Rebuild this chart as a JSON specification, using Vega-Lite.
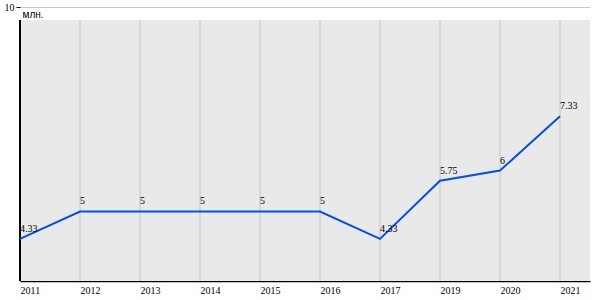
{
  "$schema": "https://vega.github.io/schema/vega-lite/v6.json",
  "autosize": "none",
  "width": 570,
  "height": 274,
  "padding": {"left": 20, "top": 7, "right": 10, "bottom": 19},
  "background": "white",
  "config": {
    "view": {"stroke": null},
    "font": "Liberation Sans Narrow",
    "axis": {"labelFont": "Liberation Sans Narrow", "titleFont": "Liberation Sans", "labelColor": "#000", "titleColor": "#000"}
  },
  "data": {"values": [
    {"i": 0, "year": "2011", "v": 4.33},
    {"i": 1, "year": "2012", "v": 5},
    {"i": 2, "year": "2013", "v": 5},
    {"i": 3, "year": "2014", "v": 5},
    {"i": 4, "year": "2015", "v": 5},
    {"i": 5, "year": "2016", "v": 5},
    {"i": 6, "year": "2017", "v": 4.33},
    {"i": 7, "year": "2019", "v": 5.75},
    {"i": 8, "year": "2020", "v": 6},
    {"i": 9, "year": "2021", "v": 7.33}
  ]},
  "layer": [
    {
      "mark": {"type": "rect", "color": "#e9e9e9"},
      "encoding": {
        "x": {"datum": 0, "type": "quantitative", "scale": {"domain": [0, 9.5], "nice": false, "zero": false},
          "axis": {"values": [0,1,2,3,4,5,6,7,8,9], "grid": false, "ticks": false, "domain": true, "domainColor": "#000", "domainWidth": 1.5,
            "labelAlign": "left", "labelFontSize": 10, "labelPadding": 4, "title": null,
            "labelExpr": "['2011','2012','2013','2014','2015','2016','2017','2019','2020','2021'][datum.value]"}},
        "x2": {"datum": 9.5},
        "y": {"datum": 3.3, "type": "quantitative", "scale": {"domain": [3.3, 10], "nice": false, "zero": false},
          "axis": {"values": [10], "grid": true, "gridColor": "#c8c8c8", "domain": false, "tickSize": 4, "tickColor": "#000",
            "labelPadding": 2, "labelFontSize": 10, "title": "млн.", "titleAngle": 0, "titleAlign": "left",
            "titleBaseline": "alphabetic", "titleX": 2, "titleY": 10, "titleFontSize": 10, "titleFontWeight": "normal"}},
        "y2": {"datum": 9.68}
      }
    },
    {
      "mark": {"type": "rule", "color": "#c4c4c4", "strokeWidth": 1},
      "encoding": {
        "x": {"field": "i", "type": "quantitative"},
        "y": {"datum": 3.3},
        "y2": {"datum": 9.68}
      }
    },
    {
      "mark": {"type": "rule", "color": "#000", "strokeWidth": 1.5},
      "encoding": {
        "x": {"datum": 0},
        "y": {"datum": 3.3},
        "y2": {"datum": 9.68}
      }
    },
    {
      "mark": {"type": "line", "color": "#0050e6", "strokeWidth": 2},
      "encoding": {
        "x": {"field": "i", "type": "quantitative"},
        "y": {"field": "v", "type": "quantitative"}
      }
    },
    {
      "mark": {"type": "text", "align": "left", "baseline": "alphabetic", "dy": -7, "fontSize": 10, "color": "#000", "font": "Liberation Sans Narrow"},
      "encoding": {
        "x": {"field": "i", "type": "quantitative"},
        "y": {"field": "v", "type": "quantitative"},
        "text": {"field": "v", "type": "nominal"}
      }
    }
  ]
}
